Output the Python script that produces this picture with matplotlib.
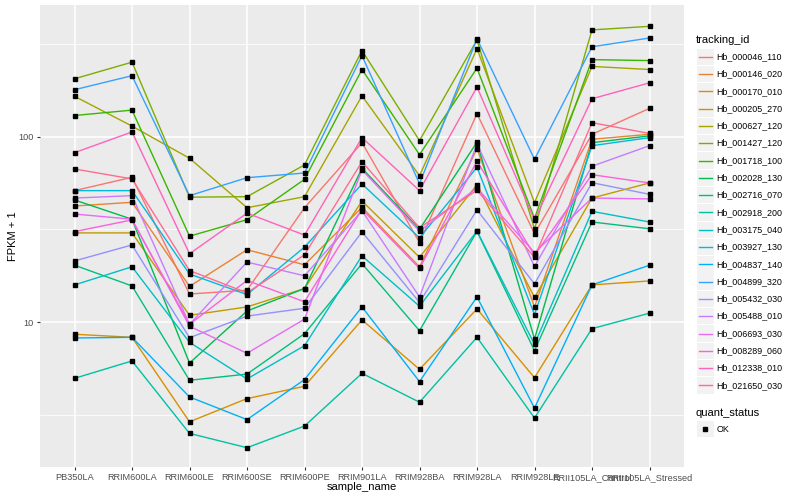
import matplotlib
matplotlib.use('Agg')
import numpy as np
import matplotlib.pyplot as plt
from matplotlib.lines import Line2D
from matplotlib.patches import Rectangle
from matplotlib.ticker import FixedLocator, NullFormatter

plt.rcParams['font.family'] = ['Liberation Sans', 'DejaVu Sans']

samples = ['PB350LA', 'RRIM600LA', 'RRIM600LE', 'RRIM600SE', 'RRIM600PE', 'RRIM901LA',
           'RRIM928BA', 'RRIM928LA', 'RRIM928LE', 'RRII105LA_Control', 'RRII105LA_Stressed']

genes = ['Hb_000046_110', 'Hb_000146_020', 'Hb_000170_010', 'Hb_000205_270', 'Hb_000627_120',
         'Hb_001427_120', 'Hb_001718_100', 'Hb_002028_130', 'Hb_002716_070', 'Hb_002918_200',
         'Hb_003175_040', 'Hb_003927_130', 'Hb_004837_140', 'Hb_004899_320', 'Hb_005432_030',
         'Hb_005488_010', 'Hb_006693_030', 'Hb_008289_060', 'Hb_012338_010', 'Hb_021650_030']

# FPKM + 1 per sample
hb_000046_110 = [51.2, 60.4, 14.2, 14.9, 41.4, 92.8, 26.9, 133, 30.0, 103, 142]
hb_000146_020 = [42.3, 44.3, 15.6, 24.6, 20.4, 41.6, 19.9, 86.2, 12.1, 96.8, 103]
hb_000170_010 = [8.62, 8.30, 2.91, 3.88, 4.52, 10.3, 5.58, 11.8, 5.03, 15.9, 16.7]
hb_000205_270 = [30.3, 30.3, 10.9, 12.1, 15.2, 45.0, 22.4, 55.1, 13.6, 46.7, 56.3]
hb_000627_120 = [165, 114, 76.5, 41.4, 47.5, 166, 61.6, 298, 44.1, 239, 230]
hb_001427_120 = [205, 252, 47.2, 47.5, 70.4, 291, 95.2, 332, 31.8, 376, 393]
hb_001718_100 = [130, 139, 29.1, 35.7, 58.9, 230, 80.0, 234, 36.3, 260, 257]
hb_002028_130 = [45.6, 35.9, 6.03, 11.5, 15.2, 67.6, 31.7, 93.3, 8.13, 92.8, 101]
hb_002716_070 = [20.3, 15.7, 4.87, 5.26, 8.68, 20.7, 9.01, 30.9, 7.03, 34.7, 31.9]
hb_002918_200 = [4.99, 6.19, 2.52, 2.11, 2.76, 5.31, 3.71, 8.30, 3.05, 9.24, 11.2]
hb_003175_040 = [15.9, 19.9, 7.80, 4.95, 7.48, 22.8, 12.2, 31.0, 7.61, 39.6, 34.7]
hb_003927_130 = [51.2, 51.2, 18.2, 14.1, 25.4, 55.6, 28.5, 68.4, 11.0, 89.4, 98.8]
hb_004837_140 = [8.23, 8.30, 3.96, 2.99, 4.91, 12.1, 4.79, 13.7, 3.45, 15.9, 20.3]
hb_004899_320 = [179, 213, 48.1, 60.1, 63.7, 273, 55.8, 337, 75.5, 305, 340]
hb_005432_030 = [21.4, 26.1, 8.26, 10.8, 11.9, 30.7, 12.8, 40.3, 16.1, 56.5, 48.9]
hb_005488_010 = [46.7, 48.1, 9.75, 21.1, 17.8, 39.9, 13.7, 91.3, 20.0, 69.3, 89.4]
hb_006693_030 = [38.3, 35.9, 9.52, 6.81, 10.4, 66.2, 31.0, 52.9, 23.7, 46.7, 46.2]
hb_008289_060 = [30.8, 35.6, 9.75, 16.8, 12.9, 40.6, 19.5, 73.7, 23.0, 62.4, 56.3]
hb_012338_010 = [82.0, 106, 23.4, 38.7, 29.5, 98.8, 51.2, 185, 35.6, 160, 195]
hb_021650_030 = [67.0, 59.2, 19.0, 14.4, 23.1, 73.3, 32.3, 51.4, 22.4, 119, 104]

series = [hb_000046_110, hb_000146_020, hb_000170_010, hb_000205_270, hb_000627_120,
          hb_001427_120, hb_001718_100, hb_002028_130, hb_002716_070, hb_002918_200,
          hb_003175_040, hb_003927_130, hb_004837_140, hb_004899_320, hb_005432_030,
          hb_005488_010, hb_006693_030, hb_008289_060, hb_012338_010, hb_021650_030]

# ggplot hue palette, 20 levels
palette = ['#F8766D', '#EA8331', '#D89000', '#C09B00', '#A3A500', '#7CAE00', '#39B600',
           '#00BB4E', '#00BF7D', '#00C1A3', '#00BFC4', '#00BAE0', '#00B0F6', '#35A2FF',
           '#9590FF', '#C77CFF', '#E76BF3', '#FA62DB', '#FF62BC', '#FF6C91']

W, H = 800, 500
def fx(px):
    return px / W
def fy(py):
    return 1 - py / H

fig = plt.figure(figsize=(8, 5), dpi=100)
ax = fig.add_axes([fx(40), fy(467), (684 - 40) / W, (467 - 5) / H])
ax.set_facecolor('#EBEBEB')

x = np.arange(len(samples))
for vals, col in zip(series, palette):
    ax.plot(x, vals, color=col, lw=1.0, zorder=2)
for vals in series:
    ax.plot(x, vals, ls='none', marker='s', ms=2.6, color='black', zorder=3)

ax.set_yscale('log')
ax.set_ylim(1.661, 512)
ax.set_xlim(-0.6, 10.6)
ax.set_xticks(x)
ax.set_xticklabels(samples)
ax.set_yticks([10, 100])
ax.set_yticklabels(['10', '100'])
ax.yaxis.set_minor_locator(FixedLocator([10 ** 0.5, 10 ** 1.5, 10 ** 2.5]))
ax.yaxis.set_minor_formatter(NullFormatter())
ax.grid(which='major', color='white', lw=1.1)
ax.grid(which='minor', axis='y', color='white', lw=0.55)
ax.set_axisbelow(True)
ax.tick_params(which='minor', length=0)
ax.tick_params(which='major', length=2.5, width=0.8, color='#333333',
               labelsize=6.6, labelcolor='#4D4D4D', pad=2)
for s in ax.spines.values():
    s.set_visible(False)

fig.text(fx(362), fy(487), 'sample_name', ha='center', va='center', fontsize=8)
fig.text(fx(13), fy(236), 'FPKM + 1', ha='center', va='center', rotation=90, fontsize=8)

# legend: tracking_id
fig.text(fx(696), fy(40), 'tracking_id', ha='left', va='center', fontsize=8)
for i, (g, col) in enumerate(zip(genes, palette)):
    yc = 56.7 + 17.3 * i
    fig.add_artist(Rectangle((fx(697), fy(yc + 8.2)), 16.5 / W, 16.4 / H,
                             transform=fig.transFigure, facecolor='#F2F2F2', edgecolor='none'))
    fig.add_artist(Line2D([fx(698.5), fx(712)], [fy(yc), fy(yc)], color=col, lw=1.0,
                          transform=fig.transFigure))
    fig.text(fx(716.5), fy(yc), g, ha='left', va='center', fontsize=6.4)

# legend: quant_status
fig.text(fx(696), fy(412.5), 'quant_status', ha='left', va='center', fontsize=8)
fig.add_artist(Rectangle((fx(697), fy(429 + 8.2)), 16.5 / W, 16.4 / H,
                         transform=fig.transFigure, facecolor='#F2F2F2', edgecolor='none'))
fig.add_artist(Line2D([fx(705.2)], [fy(429)], ls='none', marker='s', ms=2.6, color='black',
                      transform=fig.transFigure))
fig.text(fx(716.5), fy(429), 'OK', ha='left', va='center', fontsize=6.4)

fig.savefig('out.png', dpi=100)
